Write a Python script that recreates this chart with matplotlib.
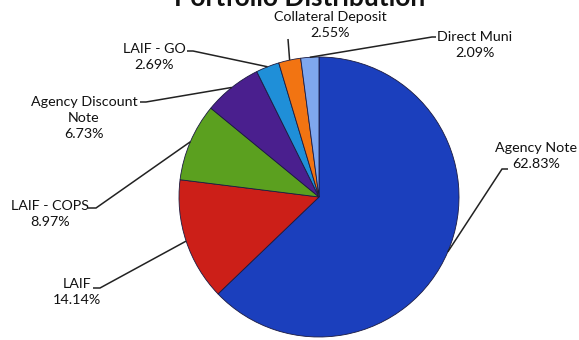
import numpy as np
import matplotlib
matplotlib.use("Agg")
import matplotlib.pyplot as plt

plt.rcParams["font.family"] = ["Lato", "DejaVu Sans"]

# data, in drawing order (clockwise from 12 o'clock)
categories = ["Agency Note", "LAIF", "LAIF - COPS", "Agency Discount\nNote",
              "LAIF - GO", "Collateral Deposit", "Direct Muni"]
shares = [62.83, 14.14, 8.97, 6.73, 2.69, 2.55, 2.09]
colors = ["#1b3fbd", "#cc1f18", "#5ba01f", "#4a1f8e", "#1f8fd8", "#f27412", "#7fa7ee"]

# label anchor (text centre), leader-line start and stub length, pixels from top-left
label_xy = [(536, 156), (77, 292), (50, 214), (84, 118), (154, 57), (330, 25), (475, 45)]
leader_start = [(508, 169), (93, 288), (88, 208), (140, 102), (187, 51), (288, 39), (436, 37)]
stub = [-6, 7, 8, 6, 6, 0, -4]

W, H = 579, 340
fig = plt.figure(figsize=(W / 100, H / 100), dpi=100)
ax = fig.add_axes([0, 0, 1, 1])

cx, cy, r = 319, H - 197, 140
wedges, _ = ax.pie(shares, colors=colors, startangle=90, counterclock=False,
                   center=(cx, cy), radius=r, frame=True,
                   wedgeprops=dict(edgecolor="#1a1a40", linewidth=0.6))
ax.set_xlim(0, W)
ax.set_ylim(0, H)
ax.axis("off")

for w, name, val, (tx, ty), (sx, sy), st in zip(wedges, categories, shares,
                                                 label_xy, leader_start, stub):
    mid = np.deg2rad((w.theta1 + w.theta2) / 2)
    ex, ey = cx + r * np.cos(mid), cy + r * np.sin(mid)
    ax.plot([sx, sx + st, ex], [H - sy, H - sy, ey], color="#222222", lw=1.1,
            solid_capstyle="butt", solid_joinstyle="miter")
    ax.text(tx, H - ty, f"{name}\n{val:.2f}%", ha="center", va="center",
            fontsize=10.3, linespacing=1.45, color="#111111")

# title sits mostly above the top edge, as in the scanned original
fig.text(0.518, 1 - 6 / H, "Portfolio Distribution", ha="center", va="baseline",
         fontsize=19, fontweight="bold", color="#111111")

fig.savefig("out.png", dpi=100)
